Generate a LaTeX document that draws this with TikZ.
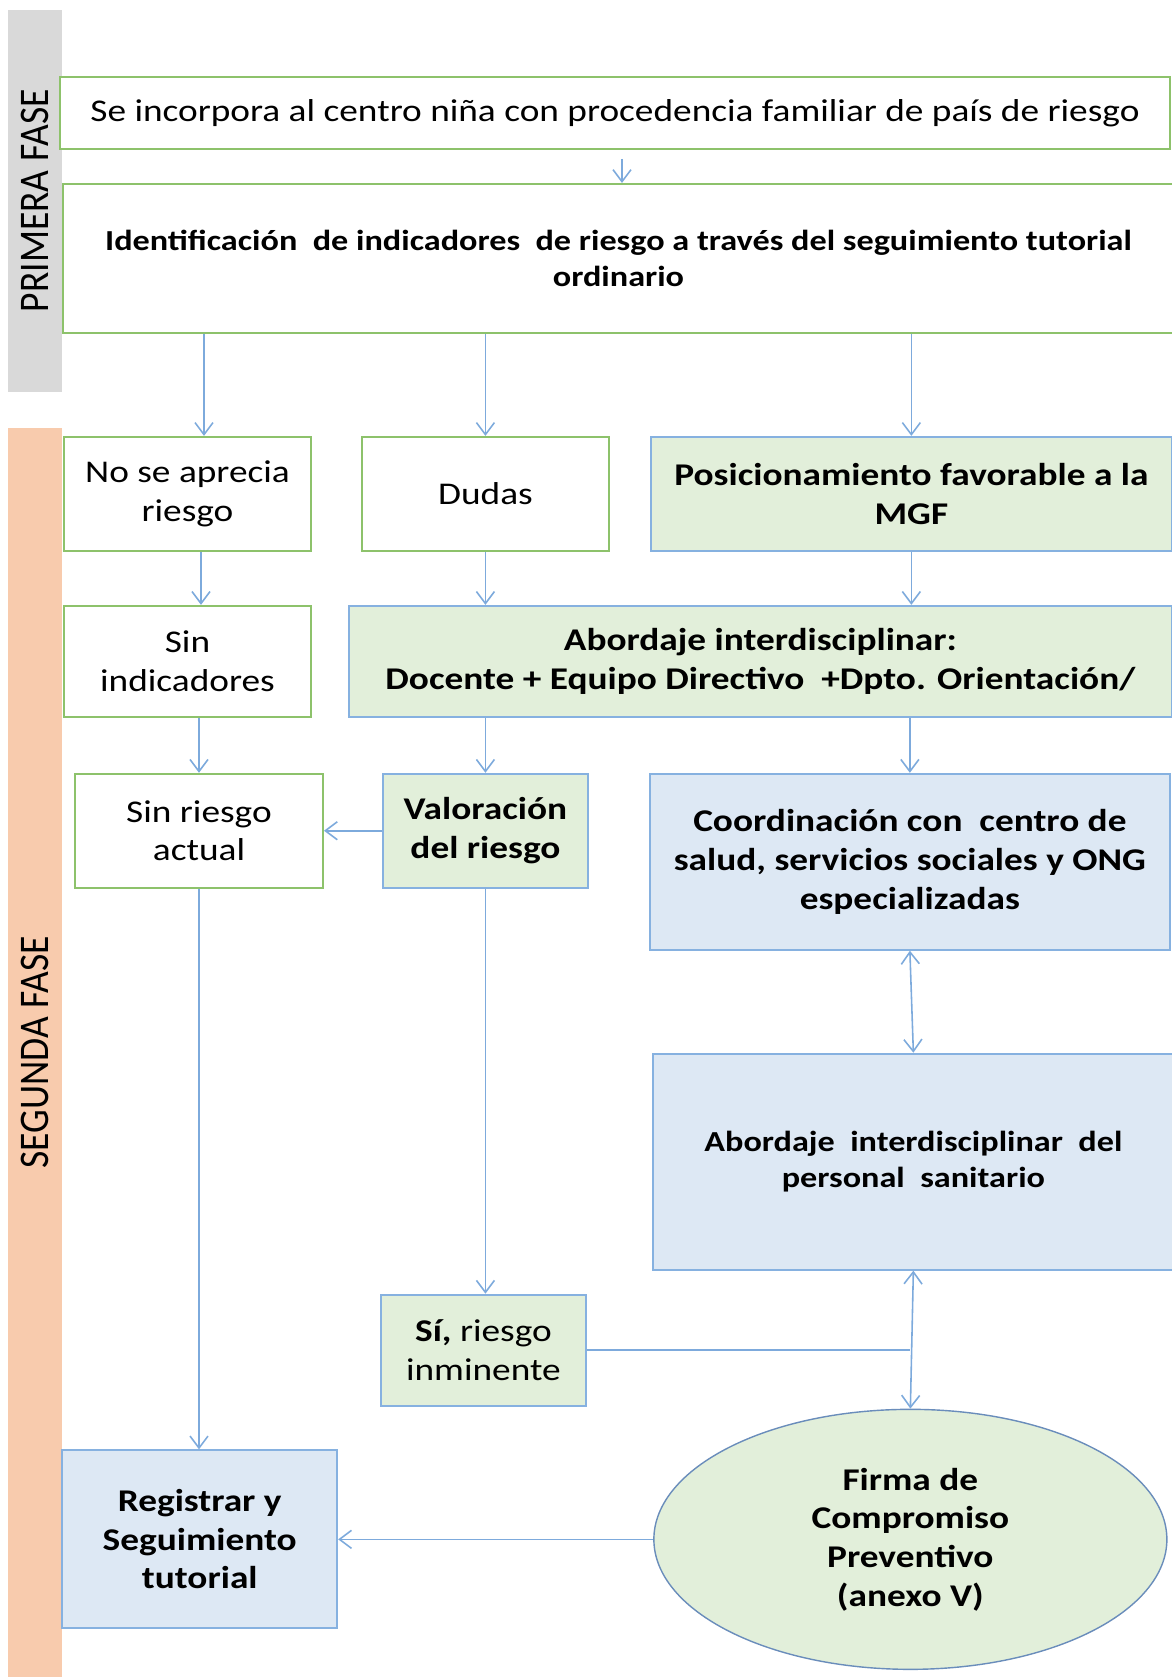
\documentclass[tikz,border=0pt]{standalone}
\usepackage{fontspec}
\setmainfont{Carlito}[FakeStretch=1.18]
\newfontfamily\fasefont{Carlito}[FakeStretch=0.89]
\usepackage{xcolor}
\usepackage{tikz}
\usetikzlibrary{shapes.geometric,arrows.meta,positioning}

\definecolor{linegreen}{HTML}{8DC26B}
\definecolor{lineblue}{HTML}{86B1E0}
\definecolor{arrowblue}{HTML}{7DAADC}
\definecolor{fillgreen}{HTML}{E2EFDA}
\definecolor{fillblue}{HTML}{DDE8F4}
\definecolor{ovalline}{HTML}{6A8DBB}
\definecolor{fasegray}{HTML}{D9D9D9}
\definecolor{faseorange}{HTML}{F8CBAD}

\begin{document}
\begin{tikzpicture}[
    node distance=1cm and 1cm,
    >={Straight Barb[length=0.24cm,width=0.36cm]},
    box/.style={draw, line width=1.1pt, align=center, inner sep=2pt, font=\fontsize{18}{22}\selectfont},
    plainbox/.style={box, draw=linegreen, fill=white},
    greenbox/.style={box, draw=lineblue, fill=fillgreen},
    bluebox/.style={box, draw=lineblue, fill=fillblue, font=\fontsize{18}{22}\selectfont\bfseries},
    bold/.style={font=\fontsize{18}{22}\selectfont\bfseries},
    smallbold/.style={font=\fontsize{16.5}{20.3}\selectfont\bfseries},
    oval/.style={ellipse, draw=ovalline, line width=0.8pt, fill=fillgreen, inner sep=0pt, align=center, font=\fontsize{18}{22}\selectfont\bfseries},
    fase/.style={rotate=90, minimum height=1.09cm, inner sep=0pt, font=\fasefont\fontsize{24}{28}\selectfont},
    arrow/.style={->, draw=arrowblue, line width=0.9pt},
    twoway/.style={<->, draw=arrowblue, line width=0.9pt},
    link/.style={draw=arrowblue, line width=0.9pt}
]
\useasboundingbox (0,0) rectangle (23.44,-33.54);

% Fases
\node[fase, fill=fasegray, minimum width=7.65cm] (primera) at (0.695,-4.015) {PRIMERA FASE};
\node[fase, fill=faseorange, minimum width=24.98cm] (segunda) at (0.695,-21.05) {SEGUNDA FASE};

% Primera fase
\node[plainbox, minimum width=22.2cm, minimum height=1.44cm] (incorpora) at (12.30,-2.26) {Se incorpora al centro niña con procedencia familiar de país de riesgo};
\node[plainbox, smallbold, minimum width=22.22cm, minimum height=2.98cm, below right=0.66cm and 0.06cm of incorpora.south west] (identifica) {Identificación\ \ de indicadores\ \ de riesgo a través del seguimiento tutorial\\ordinario};

% Segunda fase: primera fila
\node[plainbox, minimum width=4.94cm, minimum height=2.28cm, below right=2.04cm and 0.02cm of identifica.south west] (noaprecia) {No se aprecia\\riesgo};
\node[plainbox, minimum width=4.94cm, minimum height=2.28cm, right=0.98cm of noaprecia] (dudas) {Dudas};
\node[greenbox, bold, minimum width=10.42cm, minimum height=2.28cm, right=0.80cm of dudas] (posiciona) {Posicionamiento favorable a la\\MGF};

% Segunda fila
\node[plainbox, minimum width=4.94cm, minimum height=2.22cm, below=1.06cm of noaprecia] (sinindic) {Sin\\indicadores};
\node[greenbox, bold, minimum width=16.46cm, minimum height=2.22cm, below left=1.06cm and 0cm of posiciona.south east] (abordaje) {Abordaje interdisciplinar:\\Docente + Equipo Directivo\ \ +Dpto. Orientación/};

% Tercera fila
\node[plainbox, minimum width=4.96cm, minimum height=2.28cm, below right=1.10cm and 0.22cm of sinindic.south west] (sinriesgo) {Sin riesgo\\actual};
\node[greenbox, bold, minimum width=4.10cm, minimum height=2.28cm, right=1.16cm of sinriesgo] (valora) {Valoración\\del riesgo};
\node[bluebox, minimum width=10.40cm, minimum height=3.52cm, below left=1.10cm and 0.04cm of abordaje.south east] (coordina) {Coordinación con\ \ centro de\\salud, servicios sociales y ONG\\especializadas};
\node[bluebox, smallbold, minimum width=10.42cm, minimum height=4.32cm, below=2.04cm of coordina, xshift=0.07cm] (sanitario) {Abordaje\ \ interdisciplinar\ \ del\\personal\ \ sanitario};

% Parte final
\node[greenbox, minimum width=4.10cm, minimum height=2.22cm, below=8.10cm of valora, xshift=-0.04cm] (inminente) {\textbf{Sí,} riesgo\\inminente};
\node[oval, minimum width=10.26cm, minimum height=5.20cm, below=2.76cm of sanitario, xshift=-0.06cm] (firma) {Firma de\\Compromiso\\Preventivo\\(anexo V)};
\node[bluebox, minimum width=5.50cm, minimum height=3.56cm, left=6.30cm of firma] (registra) {Registrar y\\Seguimiento\\tutorial};

% Arrows
\coordinate (tnoap) at ([xshift=0.33cm]noaprecia.north);
\coordinate (tsinind) at ([xshift=0.27cm]sinindic.north);
\draw[arrow] ([xshift=0.07cm,yshift=0.48cm]identifica.north) -- ([xshift=0.07cm]identifica.north);
\draw[arrow] (tnoap |- identifica.south) -- (tnoap);
\draw[arrow] (dudas.north |- identifica.south) -- (dudas.north);
\draw[arrow] (posiciona.north |- identifica.south) -- (posiciona.north);
\draw[arrow] (tsinind |- noaprecia.south) -- (tsinind);
\draw[arrow] (dudas.south) -- (dudas.south |- abordaje.north);
\draw[arrow] (posiciona.south) -- (posiciona.south |- abordaje.north);
\draw[arrow] (sinriesgo.north |- sinindic.south) -- (sinriesgo.north);
\draw[arrow] (valora.north |- abordaje.south) -- (valora.north);
\draw[arrow] (coordina.north |- abordaje.south) -- (coordina.north);
\draw[arrow] (valora.west) -- (sinriesgo.east);
\draw[twoway] (coordina.south) -- (sanitario.north);
\draw[arrow] (sinriesgo.south) -- (sinriesgo.south |- registra.north);
\draw[arrow] (valora.south) -- (valora.south |- inminente.north);
\draw[link] (inminente.east) -- (inminente.east -| firma.north);
\draw[twoway] (sanitario.south) -- (firma.north);
\draw[arrow] (firma.west) -- (registra.east);

\end{tikzpicture}
\end{document}
